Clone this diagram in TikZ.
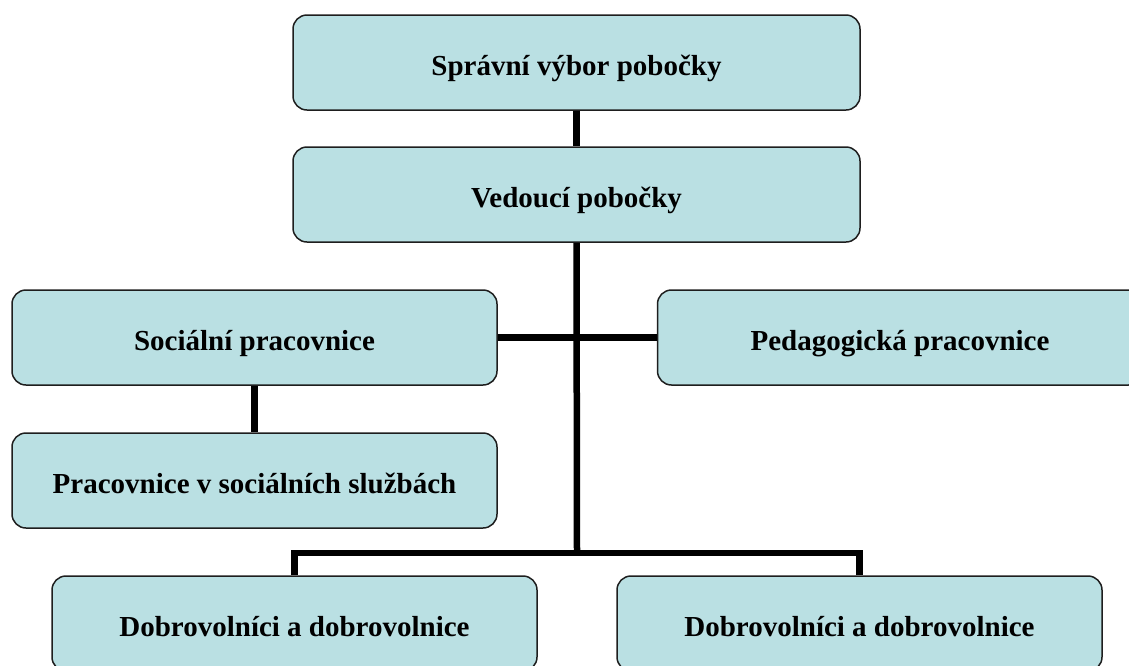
\documentclass[tikz,border=0pt]{standalone}
\usepackage{fontspec}
\setmainfont{Liberation Serif}
\definecolor{boxfill}{RGB}{186,224,227}
\definecolor{boxline}{RGB}{30,30,30}
\begin{document}
\begin{tikzpicture}[x=1pt,y=-1pt,
  orgbox/.style={draw=boxline,line width=1.5pt,fill=boxfill,rounded corners=14pt,
    minimum width=485pt,minimum height=95pt,inner sep=0pt,
    text height=25pt,text depth=0pt,
    font=\fontsize{29}{34}\selectfont\bfseries},
  conn/.style={line width=6.5pt,draw=black}]
\clip (0,0) rectangle (1129,665);
\useasboundingbox (0,0) rectangle (1129,665);
\node[orgbox,minimum width=567pt] (b1) at (576.5,62.5) {Správní výbor pobočky};
\node[orgbox,minimum width=567pt] (b2) at (576.5,194.5) {Vedoucí pobočky};
\node[orgbox] (b3) at (254.5,337.5) {Sociální pracovnice};
\node[orgbox] (b4) at (900,337.5) {Pedagogická pracovnice};
\node[orgbox] (b5) at (254.5,480.5) {Pracovnice v sociálních službách};
\node[orgbox] (b6) at (294.5,623.5) {Dobrovolníci a dobrovolnice};
\node[orgbox] (b7) at (859.5,623.5) {Dobrovolníci a dobrovolnice};
\coordinate (j) at (577,553);
\draw[conn] (b1.south) -- (b2.north);
\draw[conn] (b2.south) -- (j);
\draw[conn] (b3.east) -- (b4.west);
\draw[conn] (b3.south) -- (b5.north);
\draw[conn] (b6.north) |- (j);
\draw[conn] (b7.north) |- (j);
\end{tikzpicture}
\end{document}
